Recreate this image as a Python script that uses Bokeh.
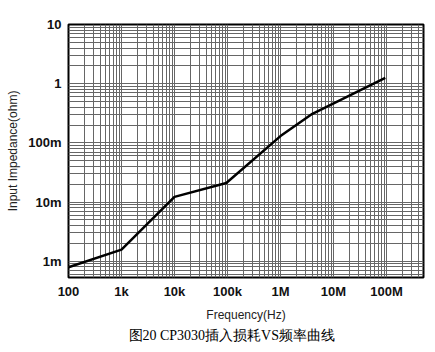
from bokeh.plotting import figure
from bokeh.models import FixedTicker, Range1d, Title
from bokeh.embed import file_html
from bokeh.resources import INLINE

# data
freq_hz = [100, 1000, 10000, 95000, 1000000, 4000000, 95000000]
impedance_ohm = [0.00079, 0.00157, 0.0122, 0.021, 0.13, 0.31, 1.25]

x_ticks = [1e2, 1e3, 1e4, 1e5, 1e6, 1e7, 1e8]
x_labels = ["100", "1k", "10k", "100k", "1M", "10M", "100M"]
y_ticks = [1e-3, 1e-2, 1e-1, 1, 10]
y_labels = ["1m", "10m", "100m", "1", "10"]

x_minor = [m * 10 ** e for e in range(2, 9) for m in range(2, 10)]
y_minor = [m * 10 ** e for e in range(-4, 1) for m in range(2, 10)]

p = figure(width=435, height=352, x_axis_type="log", y_axis_type="log",
           x_range=Range1d(100, 5.0e8), y_range=Range1d(5.3e-4, 10),
           output_backend="svg", toolbar_location=None,
           min_border_left=68, min_border_right=12, min_border_top=24,
           min_border_bottom=75)
p.background_fill_color = "white"
p.border_fill_color = "white"
p.outline_line_color = "black"
p.outline_line_width = 2

p.xaxis.ticker = FixedTicker(ticks=x_ticks, minor_ticks=x_minor)
p.yaxis.ticker = FixedTicker(ticks=y_ticks, minor_ticks=y_minor)
p.xaxis.major_label_overrides = dict(zip(x_ticks, x_labels))
p.yaxis.major_label_overrides = dict(zip(y_ticks, y_labels))

for ax in (p.xaxis, p.yaxis):
    ax.axis_line_color = None
    ax.major_tick_line_color = None
    ax.minor_tick_line_color = None
    ax.major_tick_out = 0
    ax.minor_tick_out = 0
    ax.major_label_text_font = "Liberation Sans"
    ax.major_label_text_font_style = "bold"
    ax.major_label_text_font_size = "13px"
    ax.major_label_text_color = "#111111"
    ax.axis_label_text_font = "Liberation Sans"
    ax.axis_label_text_font_style = "normal"
    ax.axis_label_text_font_size = "12px"
    ax.axis_label_text_color = "#222222"

p.xaxis.major_label_standoff = 6
p.yaxis.major_label_standoff = 7
p.xaxis.axis_label = "Frequency(Hz)"
p.yaxis.axis_label = "Input Impedance(ohm)"
p.xaxis.axis_label_standoff = 6
p.yaxis.axis_label_standoff = 5

for g in (p.xgrid, p.ygrid):
    g.grid_line_color = "#666666"
    g.grid_line_width = 1
    g.minor_grid_line_color = "#666666"
    g.minor_grid_line_width = 1

p.line(freq_hz, impedance_ohm, line_color="black", line_width=2.5)

cap = Title(text="图20 CP3030插入损耗VS频率曲线", align="left",
            text_font="Liberation Serif", text_font_size="14px",
            text_font_style="normal", text_color="black", offset=60,
            standoff=3)
p.add_layout(cap, "below")

open("out.html", "w").write(file_html(p, INLINE))
